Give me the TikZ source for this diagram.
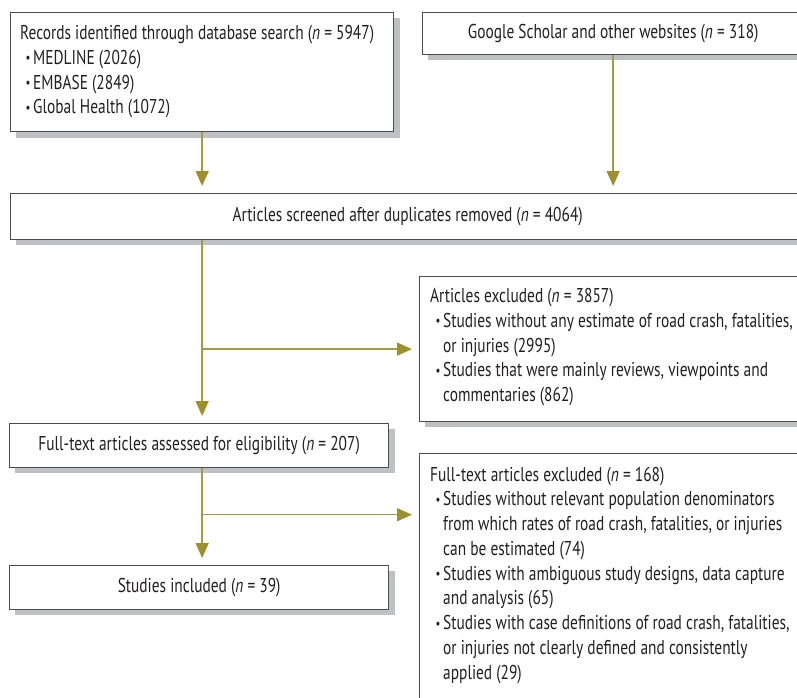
\documentclass[tikz,border=0pt]{standalone}
\usepackage{fontspec}
\setmainfont[FakeStretch=0.77]{PT Sans}
\usetikzlibrary{arrows.meta,calc}
\definecolor{arr}{HTML}{A59B45}
\definecolor{arrhead}{HTML}{9C8F2C}
\definecolor{bord}{HTML}{4D4D4F}
\definecolor{shadowgrey}{HTML}{BFC0C3}
\definecolor{ink}{HTML}{231F20}
\newcommand\bul{\hspace*{5.5pt}\makebox[7.5pt][l]{\raisebox{1.5pt}{\fontsize{14}{14}\selectfont •}}}
\newcommand\cnt{\hspace*{13pt}}
\begin{document}
\begin{tikzpicture}[x=1pt,y=-1pt,
  box/.style={draw=bord, line width=1.3pt, fill=white, inner sep=0pt, anchor=north west,
    text=ink, font=\fontsize{20}{24.75}\selectfont},
  txt/.style={inner sep=0pt, anchor=north west, align=left, text=ink, font=\fontsize{20}{24.75}\selectfont},
  flow/.style={draw=arr, line width=1.5pt, shorten >=7pt,
    -{Triangle[length=15pt,width=13pt,color=arrhead]}}]
\path[use as bounding box] (0,0) rectangle (797,698);
% drop shadows (bands right of and below each box)
\fill[shadowgrey] (393,18) rectangle (400,138);
\fill[shadowgrey] (16,131) rectangle (400,138);
\fill[shadowgrey] (428,54) rectangle (797,60);
\fill[shadowgrey] (16,239) rectangle (797,245);
\fill[shadowgrey] (425,421) rectangle (797,427);
\fill[shadowgrey] (388,429) rectangle (395,473);
\fill[shadowgrey] (15,467) rectangle (395,473);
\fill[shadowgrey] (388,571) rectangle (395,615);
\fill[shadowgrey] (15,609) rectangle (395,615);

\node[box, minimum width=383pt, minimum height=119pt] (b1) at (10,12) {};
\node[box, minimum width=381pt, minimum height=42pt] (b2) at (422,12) {\strut Google Scholar and other websites (\textit{n} = 318)};
\node[box, minimum width=794pt, minimum height=46pt] (b3) at (10,193) {\strut Articles screened after duplicates removed (\textit{n} = 4064)};
\node[box, minimum width=386pt, minimum height=145pt] (b4) at (419,276) {};
\node[box, minimum width=379pt, minimum height=44pt] (b5) at (9,423) {\strut Full-text articles assessed for eligibility (\textit{n} = 207)};
\node[box, minimum width=379pt, minimum height=44pt] (b6) at (9,565) {\strut Studies included (\textit{n} = 39)};
\node[box, minimum width=386pt, minimum height=300pt] (b7) at (419,453) {};

\node[txt] (t1) at (20,22.2) {\strut Records identified through database search (\textit{n} = 5947)\\
\bul MEDLINE (2026)\strut\\
\bul EMBASE (2849)\strut\\
\bul Global Health (1072)\strut};
\node[txt] (t4) at (430,285.2) {\strut Articles excluded (\textit{n} = 3857)\\
\bul Studies without any estimate of road crash, fatalities,\strut\\
\cnt or injuries (2995)\strut\\
\bul Studies that were mainly reviews, viewpoints and\strut\\
\cnt commentaries (862)\strut};
\node[txt] (t7) at (430,463.5) {\strut Full-text articles excluded (\textit{n} = 168)\\
\bul Studies without relevant population denominators\strut\\
\cnt from which rates of road crash, fatalities, or injuries\strut\\
\cnt can be estimated (74)\strut\\
\bul Studies with ambiguous study designs, data capture\strut\\
\cnt and analysis (65)\strut\\
\bul Studies with case definitions of road crash, fatalities,\strut\\
\cnt or injuries not clearly defined and consistently\strut\\
\cnt applied (29)\strut};

\draw[flow] (b1.south) -- (b1.south |- b3.north);
\draw[flow] (b2.south) -- (b2.south |- b3.north);
\draw[flow] (b1.south |- b3.south) -- (b1.south |- b5.north);
\draw[flow] (b1.south |- b4.west) -- (b4.west);
\coordinate (m2) at ($(b5.south)!0.48!(b6.north)$);
\draw[flow] (b1.south |- b5.south) -- (b1.south |- b6.north);
\draw[flow] (b1.south |- m2) -- (b7.west |- m2);
\end{tikzpicture}
\end{document}
